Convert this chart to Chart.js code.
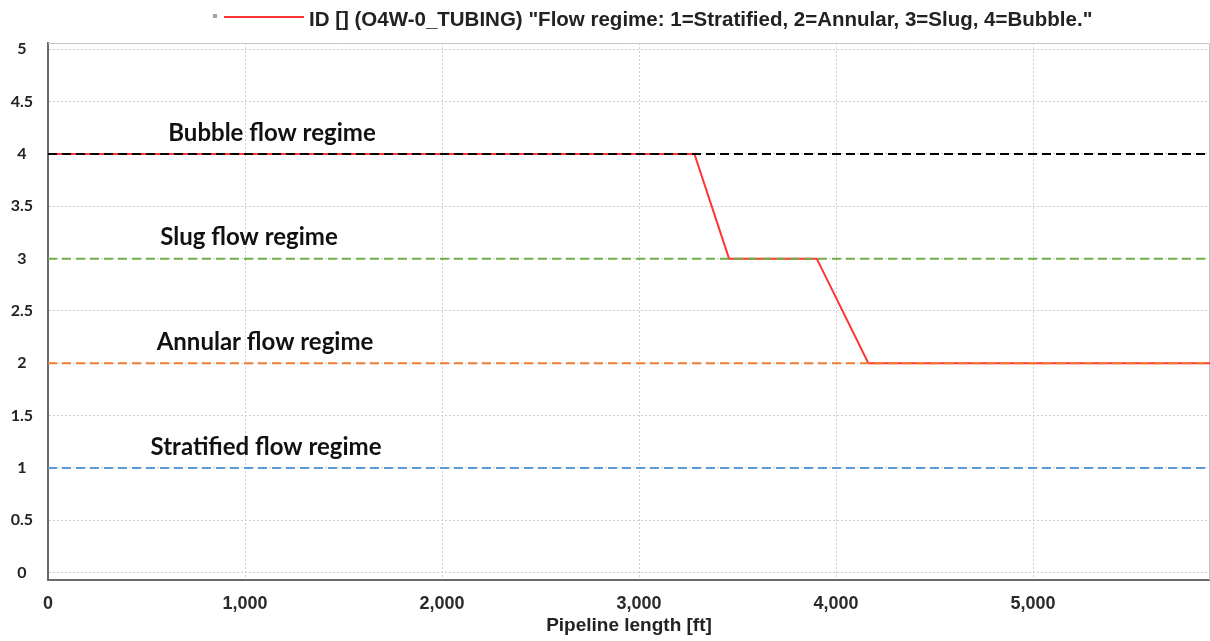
<!DOCTYPE html>
<html>
<head>
<meta charset="utf-8">
<script src="https://cdn.jsdelivr.net/npm/chart.js@4/dist/chart.umd.min.js"></script>
<style>
html,body{margin:0;padding:0;background:#fff;}
#wrap{width:1210px;height:641px;position:relative;}
</style>
</head>
<body>
<div id="wrap"><canvas id="c" width="1210" height="641"></canvas></div>
<script>
// ---- data ----
const seriesLabel = 'ID [] (O4W-0_TUBING) "Flow regime: 1=Stratified, 2=Annular, 3=Slug, 4=Bubble."';
const pipelineLengthFt = [0, 3281, 3457, 3902, 4164, 5898];
const flowRegime = [4, 4, 3, 3, 2, 2];
const regimeLevels = [4, 3, 2, 1];
const regimeNames = ['Bubble flow regime', 'Slug flow regime', 'Annular flow regime', 'Stratified flow regime'];
const regimeColors = ['#000000', '#70ad47', '#ed7d31', '#5b9bd5'];
const xTickValues = [0, 1000, 2000, 3000, 4000, 5000];
const yTickValues = [0, 0.5, 1, 1.5, 2, 2.5, 3, 3.5, 4, 4.5, 5];
const xMin = 0, xMax = 5898;
const xTitle = 'Pipeline length [ft]';

const datasets = [{
  label: seriesLabel,
  data: pipelineLengthFt.map((x, i) => ({x, y: flowRegime[i]})),
  borderColor: '#ff3535',
  borderWidth: 2,
  pointRadius: 0,
  tension: 0,
  order: 10
}];
regimeLevels.forEach((lvl, i) => {
  datasets.push({
    label: regimeNames[i],
    data: [{x: xMin, y: lvl}, {x: xMax, y: lvl}],
    borderColor: regimeColors[i],
    borderWidth: 2,
    borderDash: [9, 5],
    pointRadius: 0,
    order: 1
  });
});

const framePlugin = {
  id: 'frame',
  beforeDatasetsDraw(chart) {
    const {ctx, chartArea: a} = chart;
    ctx.save();
    ctx.strokeStyle = '#c4c4c4';
    ctx.lineWidth = 1;
    ctx.beginPath();
    ctx.moveTo(a.left, a.top + 0.5);
    ctx.lineTo(a.right - 0.5, a.top + 0.5);
    ctx.lineTo(a.right - 0.5, a.bottom);
    ctx.stroke();
    ctx.restore();
  },
  afterDraw(chart) {
    const {ctx, chartArea: a, scales} = chart;
    ctx.save();
    // regime labels
    ctx.font = 'bold 24px Lato';
    ctx.fillStyle = '#111';
    ctx.textAlign = 'center';
    ctx.textBaseline = 'middle';
    const cx = [224, 201, 217, 218];
    regimeLevels.forEach((lvl, i) => {
      ctx.fillText(regimeNames[i], a.left + cx[i], scales.y.getPixelForValue(lvl) - 21);
    });
    // legend
    const ds = chart.data.datasets[0];
    ctx.strokeStyle = ds.borderColor;
    ctx.lineWidth = 2;
    ctx.beginPath();
    ctx.moveTo(224, 17);
    ctx.lineTo(304, 17);
    ctx.stroke();
    ctx.fillStyle = '#a0a0a0';
    ctx.fillRect(213, 14, 4, 4);
    ctx.font = 'bold 20.5px "Liberation Sans"';
    ctx.fillStyle = '#222';
    ctx.textAlign = 'left';
    ctx.fillText(ds.label, 309, 20);
    // x title
    ctx.textAlign = 'center';
    ctx.font = 'bold 19px "Liberation Sans"';
    ctx.fillText(xTitle, (a.left + a.right) / 2, 626);
    ctx.restore();
  }
};

new Chart(document.getElementById('c'), {
  type: 'line',
  data: {datasets},
  options: {
    responsive: false,
    animation: false,
    layout: {padding: {top: 43, right: 0, left: 0, bottom: 0}},
    plugins: {legend: {display: false}, tooltip: {enabled: false}},
    scales: {
      x: {
        type: 'linear',
        min: xMin, max: xMax,
        afterBuildTicks: s => { s.ticks = xTickValues.map(v => ({value: v})); },
        afterFit: s => { s.height = 61; },
        grid: {color: '#cfcfcf', lineWidth: 1, drawTicks: false},
        border: {color: '#6a6a6a', width: 2, dash: [2, 2]},
        ticks: {
          padding: 13,
          color: '#2a2a2a',
          font: {family: '"Liberation Sans"', weight: 'bold', size: 18},
          callback: v => v.toLocaleString('en-US'),
          maxRotation: 0
        }
      },
      y: {
        type: 'linear',
        min: -0.07, max: 5.06,
        afterBuildTicks: s => { s.ticks = yTickValues.map(v => ({value: v})); },
        afterFit: s => { s.width = 48; },
        grid: {color: '#cfcfcf', lineWidth: 1, drawTicks: false},
        border: {color: '#6a6a6a', width: 2, dash: [2, 2]},
        ticks: {
          padding: 15,
          crossAlign: 'center',
          color: '#222',
          font: {family: 'Lato', weight: 'bold', size: 16},
          callback: v => String(v)
        }
      }
    }
  },
  plugins: [framePlugin]
});
</script>
</body>
</html>
